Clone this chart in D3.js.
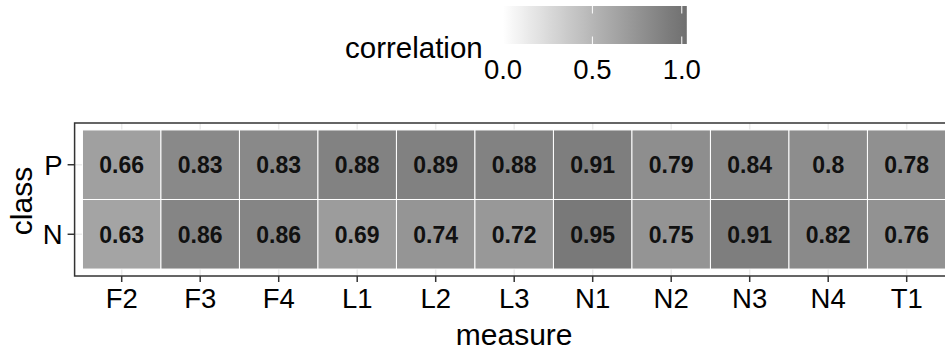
<!DOCTYPE html>
<html>
<head>
<meta charset="utf-8">
<script src="https://cdn.jsdelivr.net/npm/d3@7"></script>
<style>
  html, body { margin: 0; padding: 0; background: #ffffff; }
  svg { display: block; font-family: "Liberation Sans", Arial, Helvetica, sans-serif; }
</style>
</head>
<body>
<svg id="chart" width="945" height="352"></svg>
<script>
// Correlation per measure and class
const measures = ["F2", "F3", "F4", "L1", "L2", "L3", "N1", "N2", "N3", "N4", "T1"];
const classes = ["P", "N"];
const valuesP = [0.66, 0.83, 0.83, 0.88, 0.89, 0.88, 0.91, 0.79, 0.84, 0.8, 0.78];
const valuesN = [0.63, 0.86, 0.86, 0.69, 0.74, 0.72, 0.95, 0.75, 0.91, 0.82, 0.76];
const legendTicks = [0.0, 0.5, 1.0];
const legendMax = 1.028;

const cells = [];
measures.forEach((m, i) => {
  cells.push({ measure: m, cls: "P", value: valuesP[i] });
  cells.push({ measure: m, cls: "N", value: valuesN[i] });
});

const svg = d3.select("#chart");

// panel extent (the panel runs a little past the right edge of the page)
const panel = { left: 74.6, right: 953.8, top: 123, bottom: 276 };

const x = d3.scaleBand().domain(measures).range([panel.left, panel.right])
  .paddingInner(0).paddingOuter(0.1);
const y = d3.scaleBand().domain(classes).range([panel.top, panel.bottom])
  .paddingInner(0).paddingOuter(0.1);

const fill = d3.scaleLinear().domain([0, legendMax])
  .range(["#ffffff", "#6f6f6f"]).interpolate(d3.interpolateLab);

// panel background and grid
svg.append("rect")
  .attr("x", panel.left).attr("y", panel.top)
  .attr("width", panel.right - panel.left).attr("height", panel.bottom - panel.top)
  .attr("fill", "#ffffff");

const grid = svg.append("g").attr("stroke", "#ebebeb").attr("stroke-width", 1.5);
grid.selectAll("line.vx").data(measures).join("line")
  .attr("x1", d => x(d) + x.bandwidth() / 2).attr("x2", d => x(d) + x.bandwidth() / 2)
  .attr("y1", panel.top).attr("y2", panel.bottom);
grid.selectAll("line.hy").data(classes).join("line")
  .attr("y1", d => y(d) + y.bandwidth() / 2).attr("y2", d => y(d) + y.bandwidth() / 2)
  .attr("x1", panel.left).attr("x2", panel.right);

// tiles
svg.append("g").selectAll("rect").data(cells).join("rect")
  .attr("x", d => x(d.measure))
  .attr("y", d => y(d.cls))
  .attr("width", x.bandwidth())
  .attr("height", y.bandwidth())
  .attr("fill", d => fill(d.value))
  .attr("stroke", "#ffffff")
  .attr("stroke-width", 1);

// value labels
svg.append("g").selectAll("text").data(cells).join("text")
  .attr("x", d => x(d.measure) + x.bandwidth() / 2)
  .attr("y", d => y(d.cls) + y.bandwidth() / 2)
  .attr("dy", "0.36em")
  .attr("text-anchor", "middle")
  .attr("font-size", 23)
  .attr("font-weight", "bold")
  .attr("fill", "#111111")
  .text(d => String(d.value));

// panel border
svg.append("rect")
  .attr("x", panel.left).attr("y", panel.top)
  .attr("width", panel.right - panel.left).attr("height", panel.bottom - panel.top)
  .attr("fill", "none").attr("stroke", "#333333").attr("stroke-width", 1.5);

// x axis
const xAxis = svg.append("g")
  .attr("transform", `translate(0,${panel.bottom})`)
  .call(d3.axisBottom(x).tickSize(6).tickPadding(5).tickSizeOuter(0));
xAxis.select(".domain").remove();
xAxis.selectAll(".tick line").attr("stroke", "#333333").attr("stroke-width", 1.5);
xAxis.selectAll(".tick text")
  .attr("font-size", 27.5).attr("fill", "#000000")
  .attr("font-family", "Liberation Sans, Arial, sans-serif")
  .attr("y", 32).attr("dy", 0);

// y axis
const yAxis = svg.append("g")
  .attr("transform", `translate(${panel.left},0)`)
  .call(d3.axisLeft(y).tickSize(7).tickPadding(5).tickSizeOuter(0));
yAxis.select(".domain").remove();
yAxis.selectAll(".tick line").attr("stroke", "#333333").attr("stroke-width", 1.5);
yAxis.selectAll(".tick text")
  .attr("font-size", 27.5).attr("fill", "#000000")
  .attr("font-family", "Liberation Sans, Arial, sans-serif")
  .attr("x", -12).attr("dy", "0.36em");

// axis titles
svg.append("text")
  .attr("x", (panel.left + panel.right) / 2).attr("y", 345)
  .attr("text-anchor", "middle").attr("font-size", 30).attr("fill", "#000000")
  .text("measure");
svg.append("text")
  .attr("transform", `translate(32,${(panel.top + panel.bottom) / 2 + 1.5}) rotate(-90)`)
  .attr("text-anchor", "middle").attr("font-size", 30).attr("fill", "#000000")
  .text("class");

// legend: colour bar
const lx = d3.scaleLinear().domain([0, legendMax]).range([503, 686.8]);
const legendTop = 6, legendBottom = 44;
const defs = svg.append("defs");
const grad = defs.append("linearGradient").attr("id", "corr-grad")
  .attr("x1", "0%").attr("x2", "100%").attr("y1", "0%").attr("y2", "0%");
d3.range(0, 21).forEach(i => {
  const t = i / 20;
  grad.append("stop").attr("offset", `${t * 100}%`).attr("stop-color", fill(t * legendMax));
});
svg.append("rect")
  .attr("x", lx(0)).attr("y", legendTop)
  .attr("width", lx(legendMax) - lx(0)).attr("height", legendBottom - legendTop)
  .attr("fill", "url(#corr-grad)");

const lt = svg.append("g").attr("stroke", "#ffffff").attr("stroke-width", 1);
lt.selectAll("line.top").data(legendTicks).join("line")
  .attr("x1", d => lx(d)).attr("x2", d => lx(d))
  .attr("y1", legendTop).attr("y2", legendTop + 7.5);
lt.selectAll("line.bot").data(legendTicks).join("line")
  .attr("x1", d => lx(d)).attr("x2", d => lx(d))
  .attr("y1", legendBottom - 7.5).attr("y2", legendBottom);

svg.append("g").selectAll("text").data(legendTicks).join("text")
  .attr("x", d => lx(d)).attr("y", 79)
  .attr("text-anchor", "middle").attr("font-size", 27.5).attr("fill", "#000000")
  .text(d => d3.format(".1f")(d));

svg.append("text")
  .attr("x", 345).attr("y", 58)
  .attr("font-size", 29.5).attr("fill", "#000000")
  .text("correlation");
</script>
</body>
</html>
